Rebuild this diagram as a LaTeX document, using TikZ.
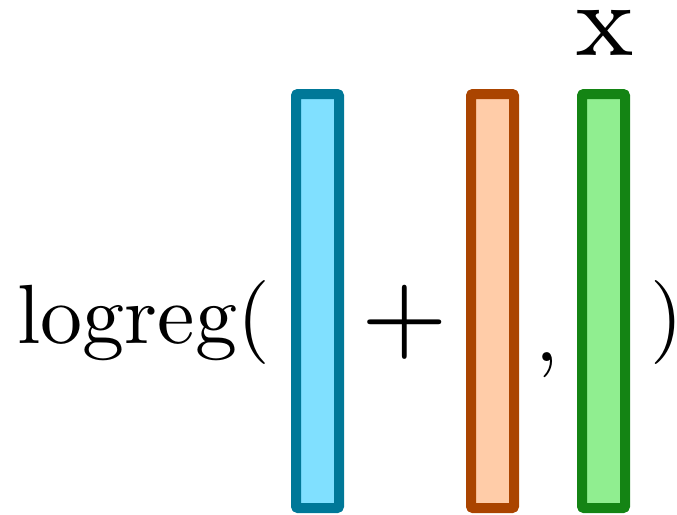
\documentclass[tikz,border=0pt]{standalone}
\definecolor{bstroke}{RGB}{0,120,152}
\definecolor{bfill}{RGB}{128,224,255}
\definecolor{ostroke}{RGB}{170,68,0}
\definecolor{ofill}{RGB}{255,204,168}
\definecolor{gstroke}{RGB}{20,132,20}
\definecolor{gfill}{RGB}{144,238,144}
\newcommand{\mtxt}[1]{\scalebox{8.4}{\fontsize{10}{12}\selectfont #1}}
\newcommand{\btxt}[1]{\scalebox{13.1}{\fontsize{8}{10}\selectfont #1}}
\begin{document}
\begin{tikzpicture}[x=1pt,y=-1pt,
  vecbar/.style={line width=10pt,line join=round,rounded corners=1pt},
  txt/.style={inner sep=0pt,outer sep=0pt}]
\useasboundingbox (0,0) rectangle (677,514);
\node[txt,anchor=base west] (lr) at (17.5,343) {\mtxt{logreg(}};
\draw[vecbar,draw=bstroke,fill=bfill] (296,94) rectangle (339,508);
\coordinate (bluebar) at (317.5,300);
\node[txt] (plus) at (405,322) {\btxt{+}};
\draw[vecbar,draw=ostroke,fill=ofill] (471,94) rectangle (514,508);
\coordinate (orangebar) at (492.5,300);
\node[txt,anchor=base west] (comma) at (535,361) {\mtxt{,}};
\draw[vecbar,draw=gstroke,fill=gfill] (582,94) rectangle (625,508);
\coordinate (greenbar) at (603.5,300);
\node[txt,anchor=base] (xlab) at (604.5,55) {\btxt{x}};
\node[txt,anchor=base west] (rp) at (650,343) {\mtxt{)}};
\end{tikzpicture}
\end{document}
